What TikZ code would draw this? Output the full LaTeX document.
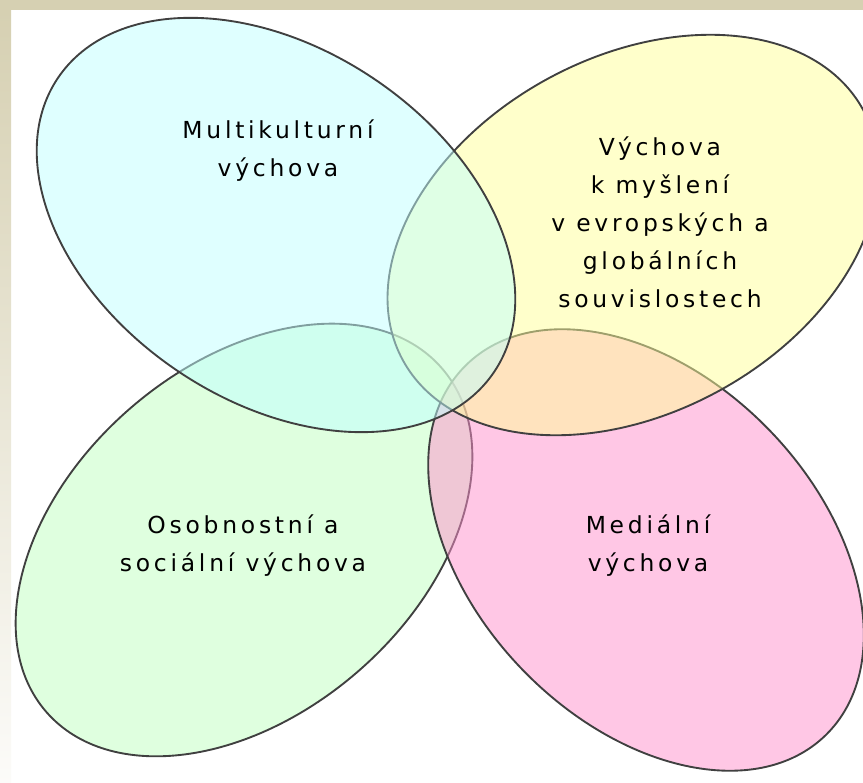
\documentclass[tikz,border=0pt]{standalone}
\usepackage{fontspec}
\setmainfont{DejaVu Sans}[LetterSpace=16]
\usepackage{tikz}
\usetikzlibrary{positioning}

\definecolor{frametan}{RGB}{214,208,178}
\definecolor{petalcyan}{RGB}{192,255,255}
\definecolor{petalgreen}{RGB}{192,255,192}
\definecolor{petalyellow}{RGB}{255,255,153}
\definecolor{petalpink}{RGB}{255,145,205}

\begin{document}
\begin{tikzpicture}[x=0.3mm, y=0.3mm,
    petal/.style={draw=black!75, line width=1.6pt, fill opacity=0.5},
    topic/.style={align=center, font=\fontsize{20}{32.4}\selectfont}]
    \useasboundingbox (0,0) rectangle (863,782);
    \clip (0,0) rectangle (863,782);

    % Frame
    \fill[white] (0,0) rectangle (863,782);
    \shade[top color=frametan, bottom color=frametan!8] (0,0) rectangle (11,772);
    \fill[frametan] (0,772) rectangle (863,782);

    % Petals (green, pink, yellow, cyan)
    \coordinate (cmulti) at (276,557);
    \coordinate (cosob) at (244,242);
    \coordinate (cglob) at (633,547);
    \coordinate (cmedia) at (646,232);
    \draw[petal, fill=petalgreen, rotate around={41:(cosob)}] (cosob) ellipse (262 and 174);
    \draw[petal, fill=petalpink, rotate around={-46:(cmedia)}] (cmedia) ellipse (258 and 172);
    \draw[petal, fill=petalyellow, rotate around={28.5:(cglob)}] (cglob) ellipse (262 and 178);
    \draw[petal, fill=petalcyan, rotate around={-34:(cmulti)}] (cmulti) ellipse (263 and 176);

    % Labels
    \node[topic] (multi) at (278,631) {Multikulturní\\výchova};
    \node[topic] (glob) at (660,560) {Výchova\\k myšlení\\v evropských a\\globálních\\souvislostech};
    \node[topic] (osob) at (243,236) {Osobnostní a\\sociální výchova};
    \node[topic] (media) at (648,236) {Mediální\\výchova};
  \end{tikzpicture}
\end{document}
